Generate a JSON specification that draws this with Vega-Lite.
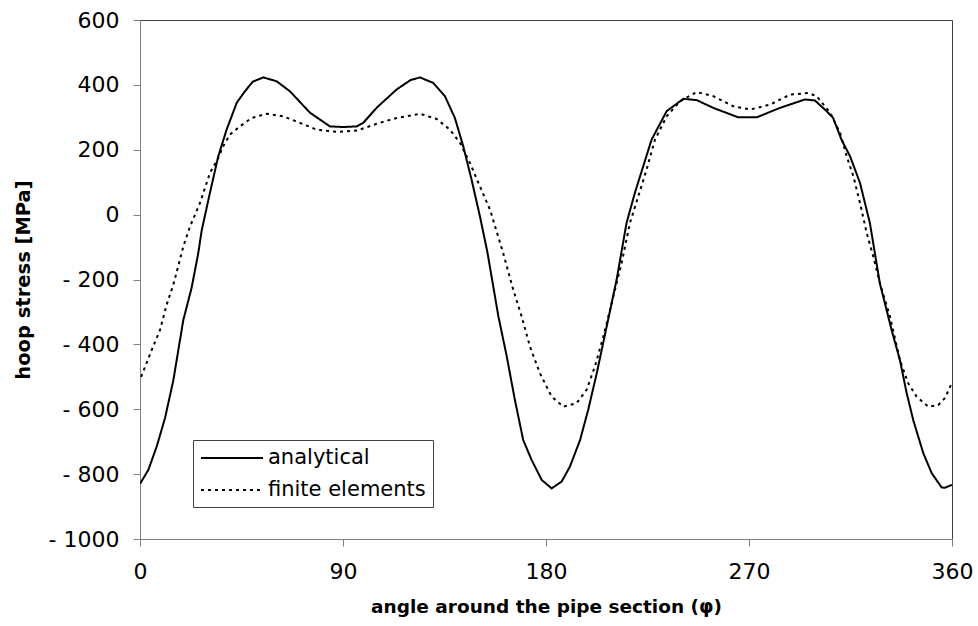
{
  "$schema": "https://vega.github.io/schema/vega-lite/v6.json",
  "width": 812,
  "height": 519,
  "autosize": {"type": "none"},
  "padding": {"left": 140, "top": 20, "right": 26, "bottom": 87},
  "background": "white",
  "config": {
    "font": "DejaVu Sans",
    "view": {"stroke": "#404040", "strokeWidth": 1},
    "axis": {
      "grid": false,
      "domainColor": "#808080",
      "tickColor": "#808080",
      "tickSize": 7,
      "labelColor": "black",
      "labelFont": "DejaVu Sans",
      "labelFontSize": 22,
      "titleFont": "DejaVu Sans",
      "titleFontSize": 19.5,
      "titleFontWeight": "bold",
      "titleColor": "black"
    }
  },
  "data": {
    "values": [
      {"angle": 0, "stress": -830, "series": "analytical"},
      {"angle": 3.7, "stress": -787, "series": "analytical"},
      {"angle": 7.4, "stress": -715, "series": "analytical"},
      {"angle": 11.1, "stress": -627, "series": "analytical"},
      {"angle": 14.8, "stress": -510, "series": "analytical"},
      {"angle": 19.2, "stress": -325, "series": "analytical"},
      {"angle": 22.9, "stress": -225, "series": "analytical"},
      {"angle": 25.8, "stress": -120, "series": "analytical"},
      {"angle": 27.4, "stress": -47, "series": "analytical"},
      {"angle": 31, "stress": 67, "series": "analytical"},
      {"angle": 34.7, "stress": 180, "series": "analytical"},
      {"angle": 38.4, "stress": 262, "series": "analytical"},
      {"angle": 42.9, "stress": 345, "series": "analytical"},
      {"angle": 46.5, "stress": 380, "series": "analytical"},
      {"angle": 50, "stress": 410, "series": "analytical"},
      {"angle": 54.7, "stress": 423, "series": "analytical"},
      {"angle": 60.6, "stress": 411, "series": "analytical"},
      {"angle": 66.5, "stress": 380, "series": "analytical"},
      {"angle": 75.4, "stress": 314, "series": "analytical"},
      {"angle": 84.2, "stress": 272, "series": "analytical"},
      {"angle": 90, "stress": 270, "series": "analytical"},
      {"angle": 96.1, "stress": 272, "series": "analytical"},
      {"angle": 99, "stress": 283, "series": "analytical"},
      {"angle": 105, "stress": 330, "series": "analytical"},
      {"angle": 113.8, "stress": 386, "series": "analytical"},
      {"angle": 120, "stress": 415, "series": "analytical"},
      {"angle": 124.1, "stress": 423, "series": "analytical"},
      {"angle": 130, "stress": 406, "series": "analytical"},
      {"angle": 135.2, "stress": 365, "series": "analytical"},
      {"angle": 139.6, "stress": 298, "series": "analytical"},
      {"angle": 143.3, "stress": 211, "series": "analytical"},
      {"angle": 147, "stress": 108, "series": "analytical"},
      {"angle": 150.7, "stress": -5, "series": "analytical"},
      {"angle": 154, "stress": -115, "series": "analytical"},
      {"angle": 158.9, "stress": -314, "series": "analytical"},
      {"angle": 162.6, "stress": -437, "series": "analytical"},
      {"angle": 166.2, "stress": -571, "series": "analytical"},
      {"angle": 169.9, "stress": -695, "series": "analytical"},
      {"angle": 173.6, "stress": -756, "series": "analytical"},
      {"angle": 178.1, "stress": -818, "series": "analytical"},
      {"angle": 182.5, "stress": -844, "series": "analytical"},
      {"angle": 186.9, "stress": -823, "series": "analytical"},
      {"angle": 190.6, "stress": -777, "series": "analytical"},
      {"angle": 195.1, "stress": -695, "series": "analytical"},
      {"angle": 198.7, "stress": -602, "series": "analytical"},
      {"angle": 202.5, "stress": -489, "series": "analytical"},
      {"angle": 206.9, "stress": -345, "series": "analytical"},
      {"angle": 211.3, "stress": -201, "series": "analytical"},
      {"angle": 215.7, "stress": -26, "series": "analytical"},
      {"angle": 219.4, "stress": 67, "series": "analytical"},
      {"angle": 223.1, "stress": 149, "series": "analytical"},
      {"angle": 226.8, "stress": 231, "series": "analytical"},
      {"angle": 233.5, "stress": 319, "series": "analytical"},
      {"angle": 240.9, "stress": 357, "series": "analytical"},
      {"angle": 246.8, "stress": 353, "series": "analytical"},
      {"angle": 254.2, "stress": 329, "series": "analytical"},
      {"angle": 265.2, "stress": 300, "series": "analytical"},
      {"angle": 273.4, "stress": 300, "series": "analytical"},
      {"angle": 283.7, "stress": 329, "series": "analytical"},
      {"angle": 294.8, "stress": 355, "series": "analytical"},
      {"angle": 299.2, "stress": 352, "series": "analytical"},
      {"angle": 304.4, "stress": 319, "series": "analytical"},
      {"angle": 307.3, "stress": 298, "series": "analytical"},
      {"angle": 311, "stress": 231, "series": "analytical"},
      {"angle": 314.8, "stress": 180, "series": "analytical"},
      {"angle": 319.2, "stress": 98, "series": "analytical"},
      {"angle": 323.6, "stress": -26, "series": "analytical"},
      {"angle": 328, "stress": -211, "series": "analytical"},
      {"angle": 333.2, "stress": -355, "series": "analytical"},
      {"angle": 336.9, "stress": -448, "series": "analytical"},
      {"angle": 339.9, "stress": -550, "series": "analytical"},
      {"angle": 342.8, "stress": -633, "series": "analytical"},
      {"angle": 347.3, "stress": -736, "series": "analytical"},
      {"angle": 351, "stress": -797, "series": "analytical"},
      {"angle": 355.4, "stress": -841, "series": "analytical"},
      {"angle": 356.8, "stress": -842, "series": "analytical"},
      {"angle": 360, "stress": -833, "series": "analytical"},

      {"angle": 0.5, "stress": -500, "series": "finite elements"},
      {"angle": 5.2, "stress": -417, "series": "finite elements"},
      {"angle": 8.9, "stress": -355, "series": "finite elements"},
      {"angle": 11.8, "stress": -278, "series": "finite elements"},
      {"angle": 14.8, "stress": -215, "series": "finite elements"},
      {"angle": 17.7, "stress": -139, "series": "finite elements"},
      {"angle": 19.2, "stress": -98, "series": "finite elements"},
      {"angle": 22.2, "stress": -36, "series": "finite elements"},
      {"angle": 26.6, "stress": 36, "series": "finite elements"},
      {"angle": 31, "stress": 128, "series": "finite elements"},
      {"angle": 34.7, "stress": 175, "series": "finite elements"},
      {"angle": 36.9, "stress": 211, "series": "finite elements"},
      {"angle": 39.9, "stress": 247, "series": "finite elements"},
      {"angle": 44.3, "stress": 272, "series": "finite elements"},
      {"angle": 49.5, "stress": 298, "series": "finite elements"},
      {"angle": 56.2, "stress": 311, "series": "finite elements"},
      {"angle": 63.5, "stress": 303, "series": "finite elements"},
      {"angle": 70.9, "stress": 283, "series": "finite elements"},
      {"angle": 78.3, "stress": 262, "series": "finite elements"},
      {"angle": 87.2, "stress": 255, "series": "finite elements"},
      {"angle": 96.1, "stress": 259, "series": "finite elements"},
      {"angle": 104.9, "stress": 280, "series": "finite elements"},
      {"angle": 113.8, "stress": 298, "series": "finite elements"},
      {"angle": 124.1, "stress": 311, "series": "finite elements"},
      {"angle": 131.5, "stress": 295, "series": "finite elements"},
      {"angle": 137.4, "stress": 262, "series": "finite elements"},
      {"angle": 141.9, "stress": 221, "series": "finite elements"},
      {"angle": 146.3, "stress": 159, "series": "finite elements"},
      {"angle": 150.7, "stress": 87, "series": "finite elements"},
      {"angle": 155.2, "stress": 15, "series": "finite elements"},
      {"angle": 161, "stress": -118, "series": "finite elements"},
      {"angle": 165.5, "stress": -232, "series": "finite elements"},
      {"angle": 169.2, "stress": -314, "series": "finite elements"},
      {"angle": 172.9, "stress": -407, "series": "finite elements"},
      {"angle": 177.3, "stress": -489, "series": "finite elements"},
      {"angle": 182.5, "stress": -561, "series": "finite elements"},
      {"angle": 187.7, "stress": -592, "series": "finite elements"},
      {"angle": 193.6, "stress": -581, "series": "finite elements"},
      {"angle": 198, "stress": -540, "series": "finite elements"},
      {"angle": 201.7, "stress": -468, "series": "finite elements"},
      {"angle": 205.4, "stress": -376, "series": "finite elements"},
      {"angle": 208.4, "stress": -293, "series": "finite elements"},
      {"angle": 211.3, "stress": -211, "series": "finite elements"},
      {"angle": 213.5, "stress": -150, "series": "finite elements"},
      {"angle": 217.2, "stress": -26, "series": "finite elements"},
      {"angle": 220.9, "stress": 56, "series": "finite elements"},
      {"angle": 224.6, "stress": 139, "series": "finite elements"},
      {"angle": 228.3, "stress": 231, "series": "finite elements"},
      {"angle": 233.5, "stress": 303, "series": "finite elements"},
      {"angle": 239.4, "stress": 349, "series": "finite elements"},
      {"angle": 246.8, "stress": 378, "series": "finite elements"},
      {"angle": 254.2, "stress": 365, "series": "finite elements"},
      {"angle": 263.1, "stress": 334, "series": "finite elements"},
      {"angle": 270.5, "stress": 324, "series": "finite elements"},
      {"angle": 279.3, "stress": 339, "series": "finite elements"},
      {"angle": 288.2, "stress": 370, "series": "finite elements"},
      {"angle": 296.3, "stress": 375, "series": "finite elements"},
      {"angle": 300, "stress": 365, "series": "finite elements"},
      {"angle": 306, "stress": 314, "series": "finite elements"},
      {"angle": 310.4, "stress": 252, "series": "finite elements"},
      {"angle": 313.3, "stress": 180, "series": "finite elements"},
      {"angle": 316.3, "stress": 118, "series": "finite elements"},
      {"angle": 319.2, "stress": 36, "series": "finite elements"},
      {"angle": 322.2, "stress": -57, "series": "finite elements"},
      {"angle": 325.1, "stress": -129, "series": "finite elements"},
      {"angle": 328, "stress": -211, "series": "finite elements"},
      {"angle": 332.5, "stress": -314, "series": "finite elements"},
      {"angle": 336.9, "stress": -448, "series": "finite elements"},
      {"angle": 340.6, "stress": -520, "series": "finite elements"},
      {"angle": 344.3, "stress": -561, "series": "finite elements"},
      {"angle": 349.5, "stress": -592, "series": "finite elements"},
      {"angle": 353.9, "stress": -587, "series": "finite elements"},
      {"angle": 356.8, "stress": -566, "series": "finite elements"},
      {"angle": 359.2, "stress": -530, "series": "finite elements"},
      {"angle": 360, "stress": -520, "series": "finite elements"}
    ]
  },
  "mark": {"type": "line", "color": "black", "strokeWidth": 2, "clip": true},
  "encoding": {
    "x": {
      "field": "angle",
      "type": "quantitative",
      "scale": {"domain": [0, 360], "nice": false, "zero": false},
      "axis": {
        "values": [0, 90, 180, 270, 360],
        "title": "angle around the pipe section (φ)",
        "titleFontSize": 18.5,
        "labelPadding": 15,
        "titlePadding": 15,
        "labelFlush": false
      }
    },
    "y": {
      "field": "stress",
      "type": "quantitative",
      "scale": {"domain": [-1000, 600], "nice": false},
      "axis": {
        "values": [-1000, -800, -600, -400, -200, 0, 200, 400, 600],
        "labelExpr": "datum.value < 0 ? '- ' + abs(datum.value) : '' + datum.value",
        "title": "hoop stress [MPa]",
        "labelPadding": 14,
        "titlePadding": 15,
        "labelFlush": false
      }
    },
    "strokeDash": {
      "field": "series",
      "type": "nominal",
      "scale": {"domain": ["analytical", "finite elements"], "range": [[1, 0], [3, 4]]},
      "legend": {
        "title": null,
        "orient": "none",
        "legendX": 53,
        "legendY": 420,
        "padding": 7,
        "strokeColor": "#404040",
        "fillColor": "white",
        "symbolType": "M-1,0H5.2",
        "symbolSize": 400,
        "symbolStrokeWidth": 2,
        "symbolStrokeColor": "black",
        "labelFont": "DejaVu Sans",
        "labelFontSize": 21,
        "labelColor": "black",
        "labelOffset": 46,
        "rowPadding": 11
      }
    }
  }
}
